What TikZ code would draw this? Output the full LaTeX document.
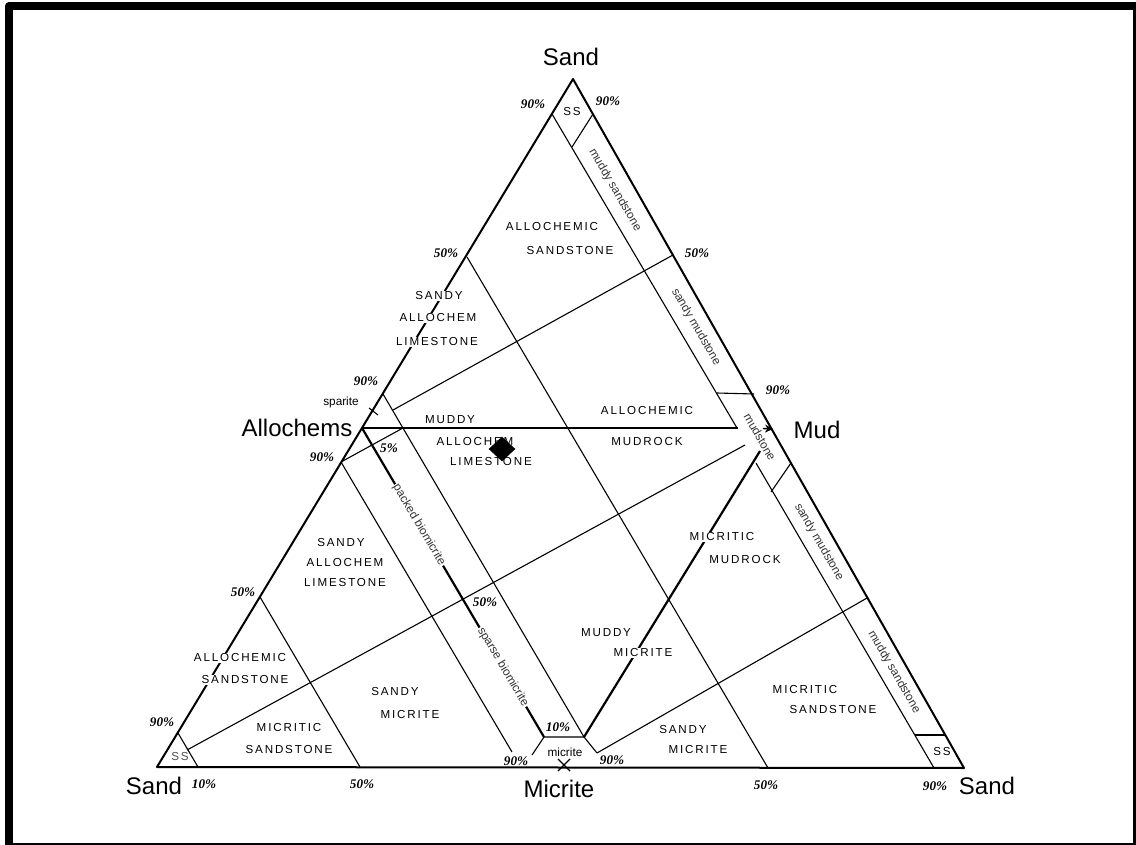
\documentclass[tikz,border=0pt]{standalone}
\usepackage{fontspec}
\setmainfont{Liberation Sans}
\newfontfamily\rockfamily[LetterSpace=16]{Liberation Sans}
\newfontfamily\pctfamily{Liberation Serif}
\usetikzlibrary{arrows.meta,shapes.geometric}
\newcommand\rockfont{\rockfamily\fontsize{5.8}{6}\selectfont}
\newcommand\pctfont{\pctfamily\bfseries\itshape\fontsize{6.6}{7}\selectfont}
\newcommand\cornerfont{\fontsize{12}{14}\selectfont}
\newcommand\stripfont{\fontsize{5.9}{6}\selectfont}
\tikzset{
  rim/.style={line width=1pt},
  guide/.style={line width=0.55pt},
  fold/.style={line width=1.1pt},
  corner/.style={font=\cornerfont,inner sep=1pt},
  rock/.style={font=\rockfont,inner sep=0.6pt},
  pct/.style={font=\pctfont,inner sep=0.5pt},
  strip/.style={font=\stripfont,text=black!80,inner sep=0.6pt,rotate=-60},
  onedge/.style={fill=white},
}
\begin{document}
\begin{tikzpicture}[x=0.5pt,y=-0.5pt,line join=round]
  \useasboundingbox (0,0) rectangle (1136,845);
  \draw[line width=4pt] (9,6) rectangle (1137,847);
  % corners of the unfolded tetrahedron
  \coordinate (T) at (573,79);
  \coordinate (BL) at (157,767);
  \coordinate (BR) at (964,768);
  \coordinate (A) at (362,428);
  \coordinate (M) at (773,429);
  \coordinate (C) at (561,768);
  \draw[rim] (T) -- (BL) -- (BR) -- cycle;
  % upper face
  \draw[guide] (552,114) -- (737,428);
  \draw[guide] (593,114) -- (572,147);
  \draw[guide] (467,257) -- (768,768);
  \draw[guide] (673,255) -- (393,410);
  \draw[guide] (383,394) -- (584,737);
  \draw[guide] (717,393) -- (754,394);
  \draw[line width=0.7pt] (A) -- (738,428);
  \draw[line width=0.7pt,-{Stealth[length=4pt,width=4pt]}] (763,428.5) -- (M);
  % left face
  \draw[guide] (178,733) -- (198,767);
  \draw[guide] (260,597) -- (360,767);
  \draw[guide] (341,462) -- (512,752);
  \draw[guide] (187,750) -- (745,445);
  \draw[guide] (341,462) -- (403,428);
  % middle face
  \draw[fold] (A) -- (544,737);
  \draw[fold] (584,737) -- (760,451);
  \draw[guide] (532,755) -- (544,737) -- (584,737) -- (597,753);
  % right face
  \draw[guide] (756,463) -- (934,768);
  \draw[guide] (791,463) -- (771,492);
  \draw[guide] (915,735) -- (945,735);
  \draw[guide] (867,598) -- (597,753);
  \draw[line width=0.7pt] (558,759) -- (570,771) (570,759) -- (558,771);
  \draw[guide] (369,408) -- (378,415);

  % end members
  \node[corner] (sandtop) at (571,57) {Sand};
  \node[corner] (alloc) at (297,428) {Allochems};
  \node[corner] (mud) at (817,430) {Mud};
  \node[corner] (sandleft) at (154,786) {Sand};
  \node[corner] (micr) at (559,789) {Micrite};
  \node[corner] (sandright) at (987,786) {Sand};

  % percent marks
  \node[pct] (p1) at (533,104) {90\%};
  \node[pct] (p2) at (608,101) {90\%};
  \node[pct] (p3) at (446,253) {50\%};
  \node[pct] (p4) at (697,253) {50\%};
  \node[pct] (p5) at (366,381) {90\%};
  \node[pct] (p6) at (778,390) {90\%};
  \node[pct] (p7) at (389,448) {5\%};
  \node[pct] (p8) at (322,457) {90\%};
  \node[pct] (p9) at (243,592) {50\%};
  \node[pct] (p10) at (485,602) {50\%};
  \node[pct] (p11) at (162,722) {90\%};
  \node[pct] (p12) at (558,727) {10\%};
  \node[pct] (p13) at (516,761) {90\%};
  \node[pct] (p14) at (612,760) {90\%};
  \node[pct] (p15) at (204,784) {10\%};
  \node[pct] (p16) at (362,784) {50\%};
  \node[pct] (p17) at (766,785) {50\%};
  \node[pct] (p18) at (935,786) {90\%};

  % rock names
  \node[rock] (as1) at (552,227) {ALLOCHEMIC};
  \node[rock] (as2) at (570,251) {SANDSTONE};
  \node[rock,onedge] (sal1) at (439,296) {SANDY};
  \node[rock,onedge] (sal2) at (438,318) {ALLOCHEM};
  \node[rock,onedge] (sal3) at (437,342) {LIMESTONE};
  \node[rock] (mal1) at (450,420) {MUDDY};
  \node[rock] (mal2) at (475,442) {ALLOCHEM};
  \node[rock] (mal3) at (491,462) {LIMESTONE};
  \node[rock] (am1) at (647,411) {ALLOCHEMIC};
  \node[rock] (am2) at (647,442) {MUDROCK};
  \node[rock] (sl1) at (341,543) {SANDY};
  \node[rock] (sl2) at (345,563) {ALLOCHEM};
  \node[rock] (sl3) at (345,583) {LIMESTONE};
  \node[rock,onedge] (mm1) at (722,537) {MICRITIC};
  \node[rock] (mm2) at (745,560) {MUDROCK};
  \node[rock] (md1) at (606,633) {MUDDY};
  \node[rock,onedge] (md2) at (643,653) {MICRITE};
  \node[rock,onedge] (asl1) at (240,658) {ALLOCHEMIC};
  \node[rock,onedge] (asl2) at (245,680) {SANDSTONE};
  \node[rock] (sml1) at (395,692) {SANDY};
  \node[rock] (sml2) at (410,715) {MICRITE};
  \node[rock] (msl1) at (289,728) {MICRITIC};
  \node[rock] (msl2) at (289,750) {SANDSTONE};
  \node[rock] (smr1) at (683,730) {SANDY};
  \node[rock] (smr2) at (698,750) {MICRITE};
  \node[rock] (msr1) at (805,690) {MICRITIC};
  \node[rock] (msr2) at (833,710) {SANDSTONE};
  \node[rock] (sstop) at (572,112) {SS};
  \node[rock,text=black!70] (ssleft) at (180,757) {SS};
  \node[rock] (ssright) at (942,752) {SS};
  \node[font=\stripfont,inner sep=0.5pt] (spar) at (341,402) {sparite};
  \node[font=\stripfont,inner sep=0.5pt] (mict) at (565,752) {micrite};

  % names along the strips
  \node[strip] (ms1) at (615,190) {muddy sandstone};
  \node[strip] (sm1) at (696,327) {sandy mudstone};
  \node[strip] (mdst) at (760,437) {mudstone};
  \node[strip] (sm2) at (819,542) {sandy mudstone};
  \node[strip] (ms2) at (894,672) {muddy sandstone};
  \node[strip,rotate=0.5,onedge] (pb) at (419,525) {packed biomicrite};
  \node[strip,rotate=0.5,onedge] (sb) at (503,667) {sparse biomicrite};

  \node[diamond,fill=black,inner sep=0pt,minimum width=13.5pt,minimum height=12.5pt] (pt) at (502,449) {};
\end{tikzpicture}
\end{document}
